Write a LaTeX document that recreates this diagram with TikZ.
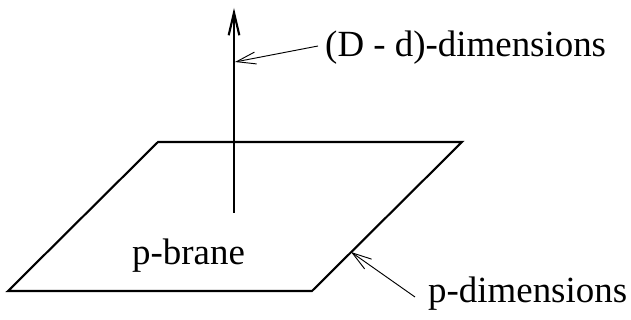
\documentclass[tikz,border=0pt]{standalone}
\usepackage{fontspec}
\setmainfont{Liberation Serif}
\newfontfamily\tmsfont{Liberation Serif}
\usetikzlibrary{arrows.meta}
\begin{document}
\begin{tikzpicture}[x=0.03cm,y=-0.03cm,
  edge/.style={line width=1.8pt,line join=miter},
  pointer/.style={line width=0.8pt,-{Straight Barb[length=0.58cm,width=0.36cm]}},
  lbl/.style={inner sep=0pt,font=\tmsfont\fontsize{31.5}{37}\selectfont}]
\useasboundingbox (0,0) rectangle (631,320);
\coordinate (bl) at (8,291);
\coordinate (br) at (312,291);
\coordinate (tr) at (462,142);
\coordinate (tl) at (158,142);
\draw[edge] (bl) -- (tl) -- (tr) -- (br) -- cycle;
\coordinate (axb) at (234,213);
\coordinate (axt) at (234,8);
\draw[line width=1.8pt,-{Straight Barb[length=0.68cm,width=0.32cm]}] (axb) -- (axt);
\node[lbl,anchor=base west] (dd) at (325,57) {(D - d)-dimensions};
\node[lbl,anchor=base west] (pd) at (428,303) {p-dimensions};
\node[lbl,anchor=base west] (pb) at (132,265) {p-brane};
\coordinate (dds) at (318,46);
\coordinate (ddt) at (235,62);
\coordinate (pds) at (415,297);
\coordinate (pdt) at (351,252);
\draw[pointer] (dds) -- (ddt);
\draw[pointer] (pds) -- (pdt);
\end{tikzpicture}
\end{document}
